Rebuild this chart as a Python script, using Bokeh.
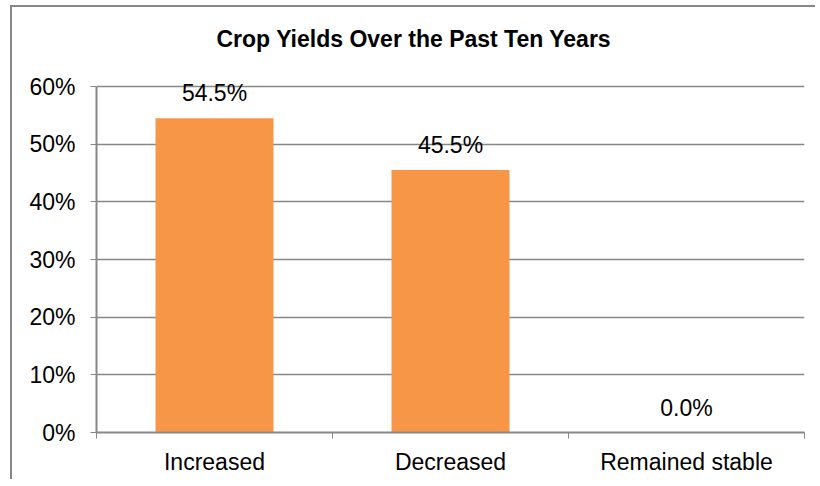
from bokeh.plotting import figure
from bokeh.models import (Range1d, FixedTicker, PrintfTickFormatter, ColumnDataSource,
                          LabelSet, Title)
from bokeh.core.properties import value
from bokeh.embed import file_html
from bokeh.resources import INLINE

categories = ["Increased", "Decreased", "Remained stable"]
values = [54.5, 45.5, 0.0]
y_ticks = [0, 10, 20, 30, 40, 50, 60]
title_text = "Crop Yields Over the Past Ten Years"

FONT = "Liberation Sans"
GRAY = "#878787"

centers = [i + 0.5 for i in range(len(categories))]
labels = [f"{v:.1f}%" for v in values]
src = ColumnDataSource(dict(x=centers, top=values, label=labels))

# canvas sits inside a 10px/5px offset with a 2px left/top border (chart-area frame)
W, H = 805, 474
ML, MR, MT, MB = 84, 13, 53, 49
frame_h = H - MT - MB
axis_h = 346                      # pixel height of the 0..60% axis
y_end = y_ticks[-1] * frame_h / axis_h   # head-room above 60% for the data label

p = figure(width=W, height=H, output_backend="svg", toolbar_location=None,
           x_range=Range1d(0, len(categories)), y_range=Range1d(0, y_end),
           min_border_left=ML, min_border_right=MR, min_border_top=MT, min_border_bottom=MB,
           background_fill_color="white", border_fill_color="white",
           styles={"margin-left": "10px", "margin-top": "5px",
                   "border-left": f"2px solid {GRAY}", "border-top": f"2px solid {GRAY}"})
p.outline_line_color = None

p.vbar(x="x", top="top", width=0.5, bottom=0, source=src, fill_color="#F79646",
       line_color=None)

p.add_layout(LabelSet(x="x", y="top", text="label", source=src, y_offset=17,
                      text_align="center", text_baseline="alphabetic",
                      text_font=value(FONT), text_font_size="23px", text_color="black"))

# axes
xa = p.xaxis[0]
xa.ticker = FixedTicker(ticks=centers, minor_ticks=list(range(len(categories) + 1)))
xa.major_label_overrides = {c: cat for c, cat in zip(centers, categories)}
xa.major_tick_out = 0
xa.major_tick_in = 0
xa.minor_tick_out = 6
xa.minor_tick_in = 0
xa.minor_tick_line_color = GRAY
xa.axis_line_color = GRAY
xa.axis_line_width = 2
xa.major_label_text_font = FONT
xa.major_label_text_font_size = "23px"
xa.major_label_text_color = "black"
xa.major_label_standoff = 10

ya = p.yaxis[0]
ya.ticker = FixedTicker(ticks=y_ticks)
ya.bounds = (y_ticks[0], y_ticks[-1])
ya.formatter = PrintfTickFormatter(format="%d%%")
ya.major_tick_out = 6
ya.major_tick_in = 0
ya.minor_tick_line_color = None
ya.major_tick_line_color = GRAY
ya.axis_line_color = GRAY
ya.axis_line_width = 2
ya.major_label_text_font = FONT
ya.major_label_text_font_size = "23px"
ya.major_label_text_color = "black"
ya.major_label_standoff = 15

p.xgrid.grid_line_color = None
p.ygrid.grid_line_color = GRAY
p.ygrid.grid_line_width = 1.5

p.title = Title(text=title_text, align="left", offset=120, standoff=18,
                text_font=FONT, text_font_size="23px", text_font_style="bold",
                text_color="black")

open("out.html", "w").write(file_html(p, INLINE))
